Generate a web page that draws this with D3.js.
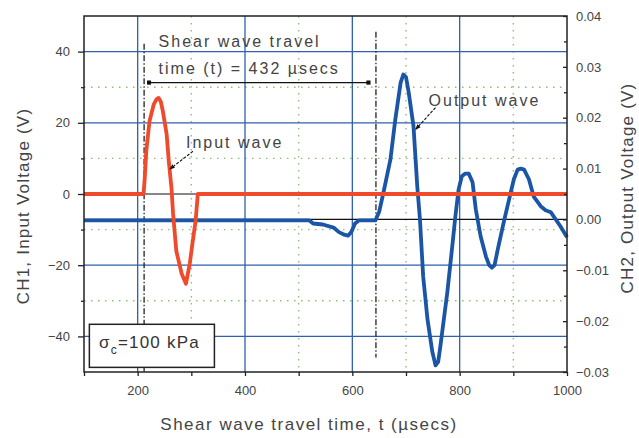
<!DOCTYPE html>
<html lang="en">
<head>
  <meta charset="UTF-8">
  <title>Shear wave travel time</title>
  <style>
    body {
      margin: 0;
      background: #fff;
      font-family: "Liberation Sans", Arial, sans-serif;
    }
    .title {
      fill: #444;
      font-size: 17px;
      letter-spacing: 1.2px;
    }
    .note {
      fill: #444;
      font-size: 16px;
      letter-spacing: 2px;
    }
  </style>
</head>
<body>
  <svg id="chart" width="639" height="438"></svg>

  <script src="https://d3js.org/d3.v7.min.js"></script>
  <script>
    // CH1 input wave (V)
    const inputTime = [100, 211, 213, 216, 222, 230, 235, 239, 243, 247, 254, 258, 263, 266, 272, 282, 290, 297, 302, 308, 311, 312, 1000];
    const inputVolt = [0, 0, 4, 12, 20.4, 25.2, 26.6, 27, 26, 23.2, 16.8, 9.2, 1.7, -5.6, -16, -22.4, -25.2, -19.6, -14, -7.5, -2, 0, 0];

    // CH2 output wave (V)
    const outputTime = [100, 520, 527, 545, 565, 575, 585, 592, 598, 605, 612, 643, 650, 658, 671, 680, 690, 695, 700, 705, 714, 721, 726, 732, 740, 749, 755, 760, 764, 777, 787, 792, 798, 804, 810, 817, 824, 830, 839, 849, 855, 860, 865, 871, 882, 892, 901, 908, 914, 920, 929, 938, 951, 960, 970, 988, 1000];
    const outputVolt = [-0.0002, -0.0002, -0.0008, -0.001, -0.0016, -0.0025, -0.003, -0.0032, -0.0025, -0.0008, -0.0002, -0.0002, 0.0015, 0.0053, 0.0118, 0.0196, 0.0269, 0.0285, 0.028, 0.025, 0.0183, 0.0065, 0, -0.0112, -0.0196, -0.026, -0.0287, -0.028, -0.025, -0.0143, -0.0045, 0.0006, 0.0059, 0.0085, 0.009, 0.009, 0.0073, 0.002, -0.0033, -0.0073, -0.009, -0.0095, -0.009, -0.0059, -0.0006, 0.0039, 0.0079, 0.0098, 0.01, 0.0098, 0.0079, 0.0045, 0.0026, 0.0018, 0.0014, -0.0014, -0.0035];

    // axes
    const timeTicks = [100, 200, 300, 400, 500, 600, 700, 800, 900, 1000];
    const timeLabels = [200, 400, 600, 800, 1000];
    const ch1Ticks = [40, 20, 0, -20, -40];
    const ch1Minor = [30, 10, -10, -30];
    const ch2Ticks = [0.04, 0.03, 0.02, 0.01, 0, -0.01, -0.02, -0.03];
    const ch2Minor = [0.035, 0.025, 0.015, 0.005, -0.005, -0.015, -0.025];

    // annotations (time, CH1 volts)
    const travelStart = 212;
    const travelEnd = 644;

    const svg = d3.select("#chart");
    const plotL = 84, plotR = 567, plotT = 16, plotB = 372;

    const x = d3.scaleLinear().domain([100, 1000]).range([plotL, plotR]);
    const y1 = d3.scaleLinear().domain([-50, 50]).range([plotB, plotT]);
    const y2 = d3.scaleLinear().domain([-0.03, 0.04]).range([plotB, plotT]);

    const grid = svg.append("g");

    // dotted minor grid
    grid.selectAll(".vdot")
      .data([300, 500, 700, 900])
      .enter().append("line")
      .attr("x1", d => x(d)).attr("x2", d => x(d))
      .attr("y1", plotT).attr("y2", plotB)
      .attr("stroke", "#8cbf73").attr("stroke-width", 1.4)
      .attr("stroke-dasharray", "1.5,5.5");

    grid.selectAll(".hdot")
      .data(ch1Minor)
      .enter().append("line")
      .attr("x1", plotL).attr("x2", plotR)
      .attr("y1", d => y1(d)).attr("y2", d => y1(d))
      .attr("stroke", "#8cbf73").attr("stroke-width", 1.4)
      .attr("stroke-dasharray", "1.5,5.5");

    // blue major grid
    grid.selectAll(".vmaj")
      .data([200, 400, 600, 800])
      .enter().append("line")
      .attr("x1", d => x(d)).attr("x2", d => x(d))
      .attr("y1", plotT).attr("y2", plotB)
      .attr("stroke", "#2f5fae").attr("stroke-width", 1.3);

    grid.selectAll(".hmaj")
      .data(ch1Ticks.filter(d => d !== 0))
      .enter().append("line")
      .attr("x1", plotL).attr("x2", plotR)
      .attr("y1", d => y1(d)).attr("y2", d => y1(d))
      .attr("stroke", "#2f5fae").attr("stroke-width", 1.3);

    // zero lines for both channels
    grid.append("line")
      .attr("x1", plotL).attr("x2", plotR)
      .attr("y1", y1(0)).attr("y2", y1(0))
      .attr("stroke", "#111").attr("stroke-width", 1.2);
    grid.append("line")
      .attr("x1", plotL).attr("x2", plotR)
      .attr("y1", y2(0)).attr("y2", y2(0))
      .attr("stroke", "#111").attr("stroke-width", 1.2);

    // dash-dot markers of the travel time
    svg.append("line")
      .attr("x1", x(travelStart)).attr("x2", x(travelStart))
      .attr("y1", y1(42.2)).attr("y2", plotB)
      .attr("stroke", "#222").attr("stroke-width", 1.3)
      .attr("stroke-dasharray", "6,2,1.5,2");
    svg.append("line")
      .attr("x1", x(travelEnd)).attr("x2", x(travelEnd))
      .attr("y1", y1(45.6)).attr("y2", y1(-45.9))
      .attr("stroke", "#222").attr("stroke-width", 1.3)
      .attr("stroke-dasharray", "6,2,1.5,2");

    // waves
    const inputLine = d3.line()
      .x((d, i) => x(inputTime[i]))
      .y(d => y1(d));
    const outputLine = d3.line()
      .x((d, i) => x(outputTime[i]))
      .y(d => y2(d));

    svg.append("path")
      .datum(outputVolt)
      .attr("d", outputLine)
      .attr("fill", "none")
      .attr("stroke", "#1b55a6")
      .attr("stroke-width", 3.8)
      .attr("stroke-linejoin", "round");

    svg.append("path")
      .datum(inputVolt)
      .attr("d", inputLine)
      .attr("fill", "none")
      .attr("stroke", "#ee4a2b")
      .attr("stroke-width", 3.8)
      .attr("stroke-linejoin", "round");

    // arrows
    const defs = svg.append("defs");
    defs.append("marker")
      .attr("id", "head")
      .attr("viewBox", "0 -5 10 10")
      .attr("refX", 9).attr("refY", 0)
      .attr("markerWidth", 5).attr("markerHeight", 5)
      .attr("orient", "auto")
      .append("path")
      .attr("d", "M0,-4L10,0L0,4")
      .attr("fill", "#111");
    defs.append("marker")
      .attr("id", "end")
      .attr("viewBox", "0 -5 10 10")
      .attr("refX", 5).attr("refY", 0)
      .attr("markerWidth", 4).attr("markerHeight", 4)
      .attr("orient", "auto")
      .append("rect")
      .attr("x", 0).attr("y", -4).attr("width", 8).attr("height", 8)
      .attr("fill", "#111");

    svg.append("line")
      .attr("x1", x(travelStart + 10)).attr("x2", x(travelEnd - 13))
      .attr("y1", y1(31.3)).attr("y2", y1(31.3))
      .attr("stroke", "#111").attr("stroke-width", 1.3)
      .attr("marker-start", "url(#end)")
      .attr("marker-end", "url(#end)");

    svg.append("line")
      .attr("x1", x(303)).attr("y1", y1(12))
      .attr("x2", x(260)).attr("y2", y1(7))
      .attr("stroke", "#111").attr("stroke-width", 1.1)
      .attr("stroke-dasharray", "3,1.5")
      .attr("marker-end", "url(#head)");

    svg.append("line")
      .attr("x1", x(755)).attr("y1", y2(0.022))
      .attr("x2", x(718)).attr("y2", y2(0.0177))
      .attr("stroke", "#111").attr("stroke-width", 1.1)
      .attr("stroke-dasharray", "3,1.5")
      .attr("marker-end", "url(#head)");

    // frame
    svg.append("rect")
      .attr("x", plotL).attr("y", plotT)
      .attr("width", plotR - plotL).attr("height", plotB - plotT)
      .attr("fill", "none").attr("stroke", "#222").attr("stroke-width", 1.5);

    // axes
    svg.append("g")
      .attr("transform", `translate(0,${plotB})`)
      .call(d3.axisBottom(x).tickValues(timeTicks).tickSize(4)
        .tickFormat(d => timeLabels.includes(d) ? d : ""))
      .call(g => g.select(".domain").remove())
      .call(g => g.selectAll(".tick line").attr("stroke", "#222").attr("stroke-width", 1.3))
      .call(g => g.selectAll(".tick text").attr("dy", "1.25em"));

    svg.append("g")
      .attr("transform", `translate(${plotL},0)`)
      .call(d3.axisLeft(y1).tickValues(ch1Ticks).tickSize(6).tickPadding(8))
      .call(g => g.select(".domain").remove())
      .call(g => g.selectAll(".tick line").attr("stroke", "#222").attr("stroke-width", 1.3));

    svg.append("g")
      .attr("transform", `translate(${plotL},0)`)
      .call(d3.axisLeft(y1).tickValues(ch1Minor).tickSize(3).tickFormat(""))
      .call(g => g.select(".domain").remove())
      .call(g => g.selectAll(".tick line").attr("stroke", "#222").attr("stroke-width", 1.3));

    svg.append("g")
      .attr("transform", `translate(${plotR},0)`)
      .call(d3.axisRight(y2).tickValues(ch2Ticks).tickSize(-4).tickPadding(9)
        .tickFormat(d3.format(".2f")))
      .call(g => g.select(".domain").remove())
      .call(g => g.selectAll(".tick line").attr("stroke", "#222").attr("stroke-width", 1.3));

    svg.append("g")
      .attr("transform", `translate(${plotR},0)`)
      .call(d3.axisRight(y2).tickValues(ch2Minor).tickSize(-3).tickFormat(""))
      .call(g => g.select(".domain").remove())
      .call(g => g.selectAll(".tick line").attr("stroke", "#222").attr("stroke-width", 1.3));

    svg.selectAll(".tick text")
      .attr("font-family", "'Liberation Sans', Arial, sans-serif")
      .attr("font-size", 13)
      .attr("fill", "#444");

    // titles
    svg.append("text")
      .attr("class", "title")
      .attr("x", 309).attr("y", 430)
      .attr("text-anchor", "middle")
      .attr("font-size", 17.5)
      .style("letter-spacing", "1.5px")
      .text("Shear wave travel time, t (µsecs)");

    svg.append("text")
      .attr("class", "title")
      .attr("transform", `translate(29,${(plotT + plotB) / 2 + 12}) rotate(-90)`)
      .attr("text-anchor", "middle")
      .text("CH1, Input Voltage (V)");

    svg.append("text")
      .attr("class", "title")
      .attr("transform", `translate(633,${(plotT + plotB) / 2 - 6}) rotate(-90)`)
      .attr("text-anchor", "middle")
      .text("CH2, Output Voltage (V)");

    // notes
    svg.append("text").attr("class", "note")
      .attr("x", x(239)).attr("y", y1(41.4))
      .text("Shear wave travel");
    svg.append("text").attr("class", "note")
      .attr("x", x(239)).attr("y", y1(33.8))
      .text("time (t) = 432 µsecs");
    svg.append("text").attr("class", "note")
      .attr("x", x(290)).attr("y", y1(12.9))
      .text("Input wave");
    svg.append("text").attr("class", "note")
      .attr("x", x(742)).attr("y", y2(0.0224))
      .text("Output wave");

    // confining pressure box
    svg.append("rect")
      .attr("x", x(110)).attr("y", y1(-36.6))
      .attr("width", x(343) - x(110)).attr("height", y1(-48.7) - y1(-36.6))
      .attr("fill", "#fff").attr("stroke", "#222").attr("stroke-width", 1.5);

    const sigma = svg.append("text")
      .attr("x", x(128)).attr("y", y1(-43.2))
      .attr("fill", "#333")
      .attr("font-size", 17)
      .attr("letter-spacing", 1.2);
    sigma.append("tspan").text("σ");
    sigma.append("tspan").attr("font-size", 12).attr("dy", 6).text("c");
    sigma.append("tspan").attr("dy", -6).text("=100 kPa");
  </script>
</body>
</html>
